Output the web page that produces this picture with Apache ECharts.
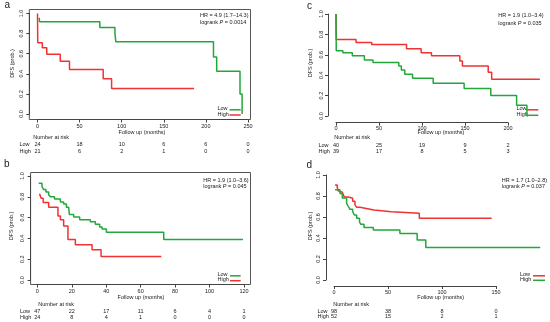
<!DOCTYPE html>
<html><head><meta charset="utf-8">
<script src="https://cdn.jsdelivr.net/npm/echarts@6/dist/echarts.min.js"></script>
<style>html,body{margin:0;padding:0;background:#fff}#main{width:550px;height:322px}</style>
</head><body><div id="main"></div>
<script>
// ---------------- DATA ----------------
// Panel a
const aTicks = [0, 50, 100, 150, 200, 250];
const aLow = [[2,0.958],[2.5,0.917],[74,0.86],[92,0.80],[93,0.72],[209,0.567],[212.8,0.426],[240.5,0.2],[243,0.0]];
const aHigh = [[0,1.0],[0.3,0.71],[5.7,0.66],[11,0.595],[27,0.524],[38,0.444],[78,0.35],[88,0.254],[186,0.254]];
const aRiskLow = [24, 18, 10, 6, 6, 0];
const aRiskHigh = [21, 6, 2, 1, 0, 0];
const aHR = 'HR = 4.9 (1.7–14.3)';
const aP = '0.0014';
// Panel b
const bTicks = [0, 20, 40, 60, 80, 100, 120];
const bLow = [[0.8,0.93],[2.7,0.90],[3.7,0.87],[5,0.846],[6.6,0.82],[7.6,0.80],[10,0.78],[13.4,0.75],[15.3,0.73],[16.9,0.70],[18.2,0.685],[18.6,0.63],[21.1,0.606],[24.6,0.58],[30.8,0.56],[33.7,0.535],[36.2,0.51],[37.6,0.49],[40.1,0.46],[73.4,0.39],[119.4,0.39]];
const bHigh = [[1.3,0.83],[2.2,0.785],[3.4,0.745],[6.6,0.70],[12,0.615],[13.4,0.58],[15.3,0.52],[17.8,0.39],[22.1,0.34],[31.8,0.29],[37,0.225],[72,0.225]];
const bRiskLow = [47, 22, 17, 11, 6, 4, 1];
const bRiskHigh = [24, 8, 4, 1, 0, 0, 0];
const bHR = 'HR = 1.9 (1.0–3.6)';
const bP = '0.045';
// Panel c
const cTicks = [0, 50, 100, 150, 200];
const cLow = [[0,1.0],[0.3,0.75],[23.3,0.72],[41.5,0.70],[82,0.66],[99,0.62],[111,0.59],[144,0.54],[147,0.49],[177,0.43],[181,0.36],[237,0.36]];
const cHigh = [[0,1.0],[0.3,0.64],[8,0.62],[19,0.59],[33,0.55],[43,0.525],[73,0.49],[76,0.45],[80,0.41],[89,0.37],[113,0.32],[149,0.27],[180,0.20],[210,0.105],[222,0.0],[223,0.0]];
const cRiskLow = [40, 25, 19, 9, 2];
const cRiskHigh = [39, 17, 8, 5, 3];
const cHR = 'HR = 1.9 (1.0–3.4)';
const cP = '0.035';
// Panel d
const dTicks = [0, 50, 100, 150];
const dLow = [[1,0.905],[3,0.883],[3.9,0.85],[5.5,0.835],[7.7,0.816],[9.5,0.79],[13.3,0.778],[17.3,0.75],[19.4,0.715],[21,0.692],[24,0.683],[28.7,0.667],[37,0.65],[53,0.635],[79,0.587],[146,0.587]];
const dHigh = [[1,0.86],[5.5,0.825],[7.7,0.78],[11.7,0.73],[13.3,0.70],[14.8,0.673],[17.3,0.65],[18.8,0.62],[21,0.587],[23.6,0.555],[24.8,0.53],[27.8,0.50],[36.4,0.476],[61,0.444],[77,0.38],[85,0.31],[191,0.31]];
const dRiskLow = [98, 38, 8, 0];
const dRiskHigh = [52, 15, 2, 1];
const dHR = 'HR = 1.7 (1.0–2.8)';
const dP = '0.037';

const yTicks = [0, 0.2, 0.4, 0.6, 0.8, 1.0];
const groupNames = ['Low', 'High'];

// ---------------- STYLE / LAYOUT ----------------
const FF = 'Liberation Sans';
const FS = 5.5;
const TXT = '#1a1a1a';
const AX = '#444';
const BOX = '#555';
const GREEN = '#22a83a';
const RED = '#f03232';

const panels = [
  { letter:'a', lx:4.5, ly:5.5, ticks:aTicks, low:aLow, high:aHigh, lowColor:GREEN, highColor:RED, riskLow:aRiskLow, riskHigh:aRiskHigh, hr:aHR, p:aP,
    x0:37.5, x1:248, y1:13.5, y0:114, xOff:5.5, yOff:8.2, xLabM:7.2, yLabM:8.3, box:[29.3,9.5,250.5,119.5],
    hrX:200, hrY1:15.7, hrY2:22.3, ylX:12.7, ylY:63.5, xlX:142, xlY:132, narX:33.3, narY:137.7, rowX:19.5, rowLowY:144.5, rowHighY:151,
    legTX:217.5, legL1:229.5, legL2:240.7, legLowY:108.3, legHighY:114 },
  { letter:'b', lx:4, ly:164, ticks:bTicks, low:bLow, high:bHigh, lowColor:GREEN, highColor:RED, riskLow:bRiskLow, riskHigh:bRiskHigh, hr:bHR, p:bP,
    x0:37.3, x1:244, y1:176, y0:280, xOff:4.5, yOff:6.7, xLabM:6.5, yLabM:7.9, box:[30.6,172.5,250.5,284.5],
    hrX:203.3, hrY1:180, hrY2:186, ylX:11.7, ylY:226, xlX:141, xlY:297.5, narX:38.3, narY:304, rowX:20, rowLowY:311, rowHighY:317,
    legTX:217.5, legL1:230, legL2:240.7, legLowY:274.3, legHighY:279.7 },
  { letter:'c', lx:307, ly:6.5, ticks:cTicks, low:cLow, high:cHigh, lowColor:RED, highColor:GREEN, riskLow:cRiskLow, riskHigh:cRiskHigh, hr:cHR, p:cP,
    x0:336, x1:508, y1:14, y0:116, xOff:6.7, yOff:8, xLabM:5.3, yLabM:6.5, box:null,
    hrX:498.3, hrY1:15.7, hrY2:23, ylX:310.7, ylY:63, xlX:441, xlY:132.7, narX:334.3, narY:137.3, rowX:318.5, rowLowY:145, rowHighY:151.7,
    legTX:516.5, legL1:526.7, legL2:538.3, legLowY:108.3, legHighY:114.3 },
  { letter:'d', lx:306.5, ly:165.5, ticks:dTicks, low:dLow, high:dHigh, lowColor:RED, highColor:GREEN, riskLow:dRiskLow, riskHigh:dRiskHigh, hr:dHR, p:dP,
    x0:334, x1:496, y1:175, y0:280, xOff:6, yOff:8, xLabM:6.7, yLabM:8, box:null,
    hrX:501.7, hrY1:180, hrY2:186, ylX:310, ylY:226, xlX:440.7, xlY:297.7, narX:333.3, narY:304.3, rowX:317.5, rowLowY:311, rowHighY:316.7,
    legTX:520, legL1:533, legL2:545, legLowY:274.3, legHighY:279.3 }
];

const grid = [], xAxis = [], yAxis = [], series = [], graphic = [];

function txt(x, y, s, o) {
  o = o || {};
  const el = { type:'text', x:x, y:y, rotation:o.rotation || 0, silent:true,
    style:{ text:s, fill:TXT, fontSize:o.size || FS, fontFamily:FF,
      align:o.align || 'left', verticalAlign:'middle', textAlign:o.align || 'left', textVerticalAlign:'middle' } };
  if (o.rich) el.style.rich = o.rich;
  graphic.push(el);
}
function seg(x1, x2, y, color) {
  graphic.push({ type:'line', silent:true, shape:{x1:x1, y1:y, x2:x2, y2:y}, style:{stroke:color, lineWidth:1.5} });
}

panels.forEach(P => {
  const gi = grid.length;
  grid.push({ left:P.x0, top:P.y1, width:P.x1 - P.x0, height:P.y0 - P.y1, outerBoundsMode:'none', containLabel:false });
  const step = P.ticks[1] - P.ticks[0];
  const tmax = P.ticks[P.ticks.length - 1];
  xAxis.push({ gridIndex:gi, type:'value', min:0, max:tmax, interval:step, position:'bottom', offset:P.xOff,
    axisLine:{ show:true, onZero:false, lineStyle:{ color:AX, width:1 } },
    axisTick:{ show:true, length:3, lineStyle:{ color:AX, width:1 } },
    axisLabel:{ show:true, fontSize:FS, fontFamily:FF, color:TXT, margin:P.xLabM, verticalAlign:'middle',
      showMinLabel:true, showMaxLabel:true, hideOverlap:false },
    splitLine:{ show:false } });
  [[P.riskLow, P.rowLowY], [P.riskHigh, P.rowHighY]].forEach(([arr, y]) => {
    xAxis.push({ gridIndex:gi, type:'value', min:0, max:tmax, interval:step, position:'bottom', offset:y - P.y0,
      axisLine:{ show:false, onZero:false }, axisTick:{ show:false }, splitLine:{ show:false },
      axisLabel:{ show:true, fontSize:FS, fontFamily:FF, color:TXT, margin:0, verticalAlign:'middle',
        showMinLabel:true, showMaxLabel:true, hideOverlap:false,
        formatter:(v) => { const k = P.ticks.indexOf(Math.round(v)); return k >= 0 ? String(arr[k]) : ''; } } });
  });
  yAxis.push({ gridIndex:gi, type:'value', min:0, max:1, interval:0.2, position:'left', offset:P.yOff,
    axisLine:{ show:true, onZero:false, lineStyle:{ color:AX, width:1 } },
    axisTick:{ show:true, length:3, lineStyle:{ color:AX, width:1 } },
    axisLabel:{ show:true, rotate:90, fontSize:FS, fontFamily:FF, color:TXT, margin:P.yLabM,
      align:'center', verticalAlign:'middle', showMinLabel:true, showMaxLabel:true, hideOverlap:false,
      formatter:(v) => { const k = yTicks.findIndex(t => Math.abs(t - v) < 1e-6); return k >= 0 ? yTicks[k].toFixed(1) : ''; } },
    splitLine:{ show:false } });

  // data grid: same scale as the tick grid, wider extent so curves past the last tick are not clamped
  const dg = grid.length;
  const dmax = tmax * 1.5;
  grid.push({ left:P.x0, top:P.y1, width:(P.x1 - P.x0) * dmax / tmax, height:P.y0 - P.y1, outerBoundsMode:'none', containLabel:false });
  const xData = xAxis.length;
  xAxis.push({ gridIndex:dg, type:'value', show:false, min:0, max:dmax });
  const yData = yAxis.length;
  yAxis.push({ gridIndex:dg, type:'value', show:false, min:0, max:1 });
  [[P.low, P.lowColor, 'Low'], [P.high, P.highColor, 'High']].forEach(([d, c, n]) => {
    series.push({ type:'line', name:P.letter + '-' + n, xAxisIndex:xData, yAxisIndex:yData, data:d, step:'end',
      showSymbol:false, symbol:'none', clip:false, animation:false, silent:true,
      lineStyle:{ color:c, width:1.5 }, itemStyle:{ color:c } });
  });
  if (P.box) {
    const bg = grid.length;
    grid.push({ left:P.box[0], top:P.box[1], width:P.box[2] - P.box[0], height:P.box[3] - P.box[1],
      show:true, borderColor:BOX, borderWidth:1, backgroundColor:'rgba(0,0,0,0)', outerBoundsMode:'none', containLabel:false });
    xAxis.push({ gridIndex:bg, type:'value', show:false, min:0, max:1 });
    yAxis.push({ gridIndex:bg, type:'value', show:false, min:0, max:1 });
  }
  // texts
  txt(P.lx, P.ly, P.letter, { size:10 });
  txt(P.hrX, P.hrY1, P.hr);
  txt(P.hrX, P.hrY2, 'logrank {i|P} = ' + P.p, { rich:{ i:{ fontStyle:'italic', fontSize:FS, fontFamily:FF, fill:TXT } } });
  txt(P.ylX, P.ylY, 'DFS (prob.)', { align:'center', rotation:Math.PI / 2 });
  txt(P.xlX, P.xlY, 'Follow up (months)', { align:'center' });
  txt(P.narX, P.narY, 'Number at risk');
  txt(P.rowX, P.rowLowY, groupNames[0]);
  txt(P.rowX, P.rowHighY, groupNames[1]);
  txt(P.legTX, P.legLowY, groupNames[0]);
  txt(P.legTX, P.legHighY, groupNames[1]);
  seg(P.legL1, P.legL2, P.legLowY + 1.5, P.lowColor);
  seg(P.legL1, P.legL2, P.legHighY + 1, P.highColor);
});

const chart = echarts.init(document.getElementById('main'), null, { renderer:'canvas' });
chart.setOption({ animation:false, backgroundColor:'#fff', grid, xAxis, yAxis, series, graphic });
</script></body></html>
